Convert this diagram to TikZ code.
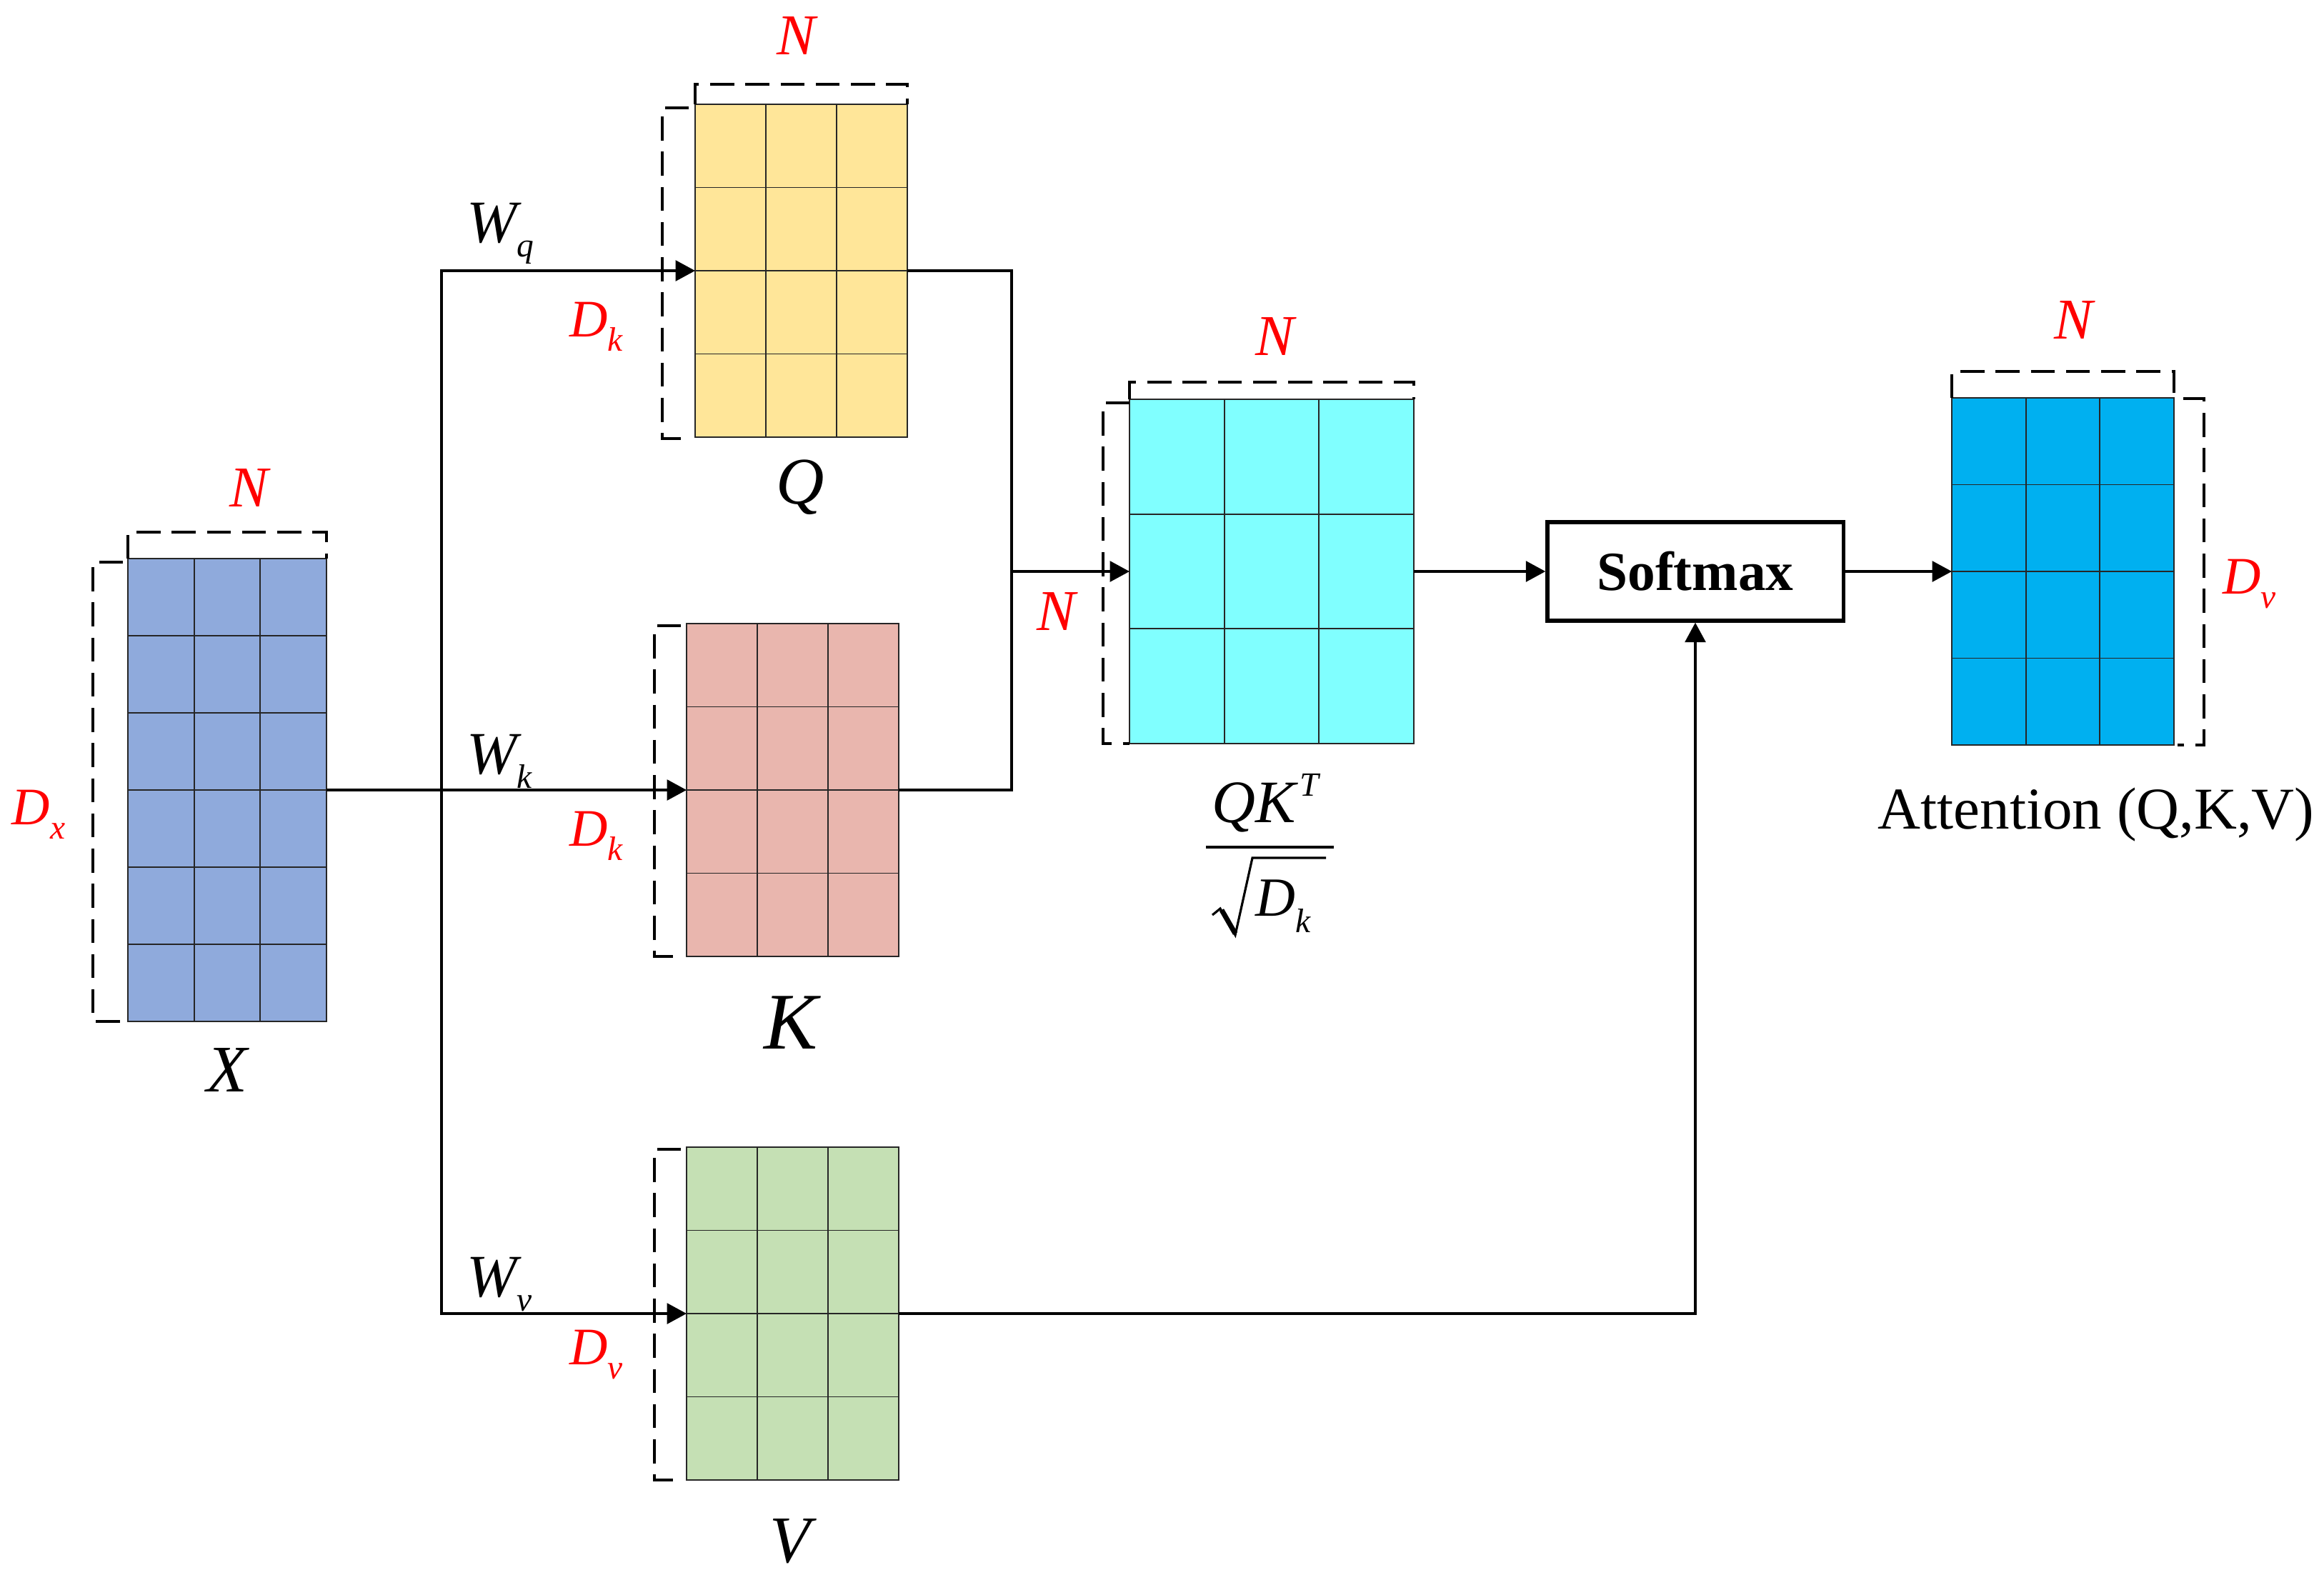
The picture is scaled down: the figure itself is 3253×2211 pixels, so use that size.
\documentclass[tikz,border=0pt]{standalone}
\usepackage{fontspec}
\setmainfont{Liberation Serif}
\usetikzlibrary{arrows.meta,calc,fit}

\definecolor{xcol}{RGB}{143,170,220}
\definecolor{qcol}{RGB}{255,230,153}
\definecolor{kcol}{RGB}{233,182,174}
\definecolor{vcol}{RGB}{197,224,180}
\definecolor{qkcol}{RGB}{128,255,255}
\definecolor{attcol}{RGB}{0,176,240}

\newcommand{\fs}[1]{\fontsize{#1pt}{#1pt}\selectfont}
\newcommand{\lowsub}[2][5.7pt]{\raisebox{-#1}{\fs{13.5}\itshape #2}}

\newcommand{\matgrid}[3]{%
  \foreach \i in {#2}{\draw[gridl] ($(#1.north west)!\i!(#1.north east)$) -- ($(#1.south west)!\i!(#1.south east)$);}%
  \foreach \j in {#3}{\draw[gridl] ($(#1.north west)!\j!(#1.south west)$) -- ($(#1.north east)!\j!(#1.south east)$);}%
}

\tikzset{
  mat/.style={draw=black!85, line width=0.5pt, inner sep=0pt, outer sep=0pt},
  gridl/.style={draw=black!85, line width=0.5pt},
  dimline/.style={line width=1.35pt, dash pattern=on 9.5pt off 4.5pt},
  conn/.style={line width=0.95pt},
  arr/.style={conn, -{Triangle[length=7.8pt,width=8.2pt]}},
  lbl/.style={inner sep=0pt, outer sep=0pt, anchor=base},
  nlab/.style={lbl, text=red, font=\fs{23}\itshape},
  dlab/.style={inner sep=0pt, outer sep=0pt, anchor=base west, text=red, font=\fs{21}\itshape},
  wlab/.style={inner sep=0pt, outer sep=0pt, anchor=base west, font=\fs{24}\itshape},
  mname/.style={lbl, font=\fs{26.5}\itshape},
}

\begin{document}
\begin{tikzpicture}[x=0.01cm, y=-0.01cm]
\fill[white] (0,0) rectangle (3253,2211);
\useasboundingbox (0,0) rectangle (3253,2211);

% ---------- matrices ----------
\node[mat, fill=xcol,   fit={(179,782) (457,1430)}]  (X)   {};
\node[mat, fill=qcol,   fit={(973,146) (1270,612)}]  (Q)   {};
\node[mat, fill=kcol,   fit={(961,873) (1258,1339)}] (K)   {};
\node[mat, fill=vcol,   fit={(961,1606) (1258,2072)}] (V)  {};
\node[mat, fill=qkcol,  fit={(1581,559) (1979,1041)}] (QK) {};
\node[mat, fill=attcol, fit={(2732,557) (3043,1043)}] (Att) {};

\matgrid{X}{0.3333,0.6667}{0.1667,0.3333,0.5,0.6667,0.8333}
\matgrid{Q}{0.3333,0.6667}{0.25,0.5,0.75}
\matgrid{K}{0.3333,0.6667}{0.25,0.5,0.75}
\matgrid{V}{0.3333,0.6667}{0.25,0.5,0.75}
\matgrid{QK}{0.3333,0.6667}{0.3333,0.6667}
\matgrid{Att}{0.3333,0.6667}{0.25,0.5,0.75}

% ---------- softmax ----------
\node[draw, line width=1.5pt, minimum width=4.14cm, minimum height=1.38cm,
      inner sep=0pt, font=\fs{22}\bfseries] (sm) at (2373,800) {Softmax};

% ---------- dimension brackets ----------
\draw[dimline] (X.north west) -- ++(0,-37) -| (X.north east);
\draw[dimline] ($(X.north west)+(-7,5)$) -- ++(-42,0) |- ($(X.south west)+(-7,0)$);
\draw[dimline] (Q.north west) -- ++(0,-28) -| (Q.north east);
\draw[dimline] ($(Q.north west)+(-9,5)$) -- ++(-37,0) |- ($(Q.south west)+(-9,2)$);
\draw[dimline] ($(K.north west)+(-8,3)$) -- ++(-37,0) |- ($(K.south west)+(-8,0)$);
\draw[dimline] ($(V.north west)+(-8,3)$) -- ++(-37,0) |- ($(V.south west)+(-8,0)$);
\draw[dimline] (QK.north west) -- ++(0,-24) -| (QK.north east);
\draw[dimline] ($(QK.north west)+(0,5)$) -- ++(-37,0) |- (QK.south west);
\draw[dimline] (Att.north west) -- ++(0,-37) -| (Att.north east);
\draw[dimline] ($(Att.north east)+(13,1)$) -- ++(29,0) |- ($(Att.south east)+(5,0)$);

% ---------- connectors ----------
\coordinate (split) at (618,1106);
\coordinate (join) at (1416,800);
\draw[arr] (X.east) -- (K.west);
\draw[arr] (split) |- (Q.west);
\draw[arr] (split) |- (V.west);
\draw[conn] (Q.east) -| (join);
\draw[conn] (K.east) -| (join);
\draw[arr] (join) -- (QK.west);
\draw[arr] (QK.east) -- (sm.west);
\draw[arr] (sm.east) -- (Att.west);
\draw[arr] (V.east) -| (sm.south);

% ---------- labels ----------
\node[nlab] (nX) at (348,709) {N};
\node[nlab] (nQ) at (1114,76) {N};
\node[nlab] (nQK) at (1784,497) {N};
\node[nlab] (nQKl) at (1478,882) {N};
\node[nlab] (nAtt) at (2902,474) {N};

\node[dlab] (dX) at (17,1154) {D\lowsub{x}};
\node[dlab] (dQ) at (797,471) {D\lowsub{k}};
\node[dlab] (dK) at (797,1184) {D\lowsub{k}};
\node[dlab] (dV) at (797,1910) {D\lowsub{v}};
\node[dlab] (dAtt) at (3111,831) {D\lowsub{v}};

\node[wlab] (wq) at (653,339) {W\lowsub{q}};
\node[wlab] (wk) at (653,1083) {W\lowsub{k}};
\node[wlab] (wv) at (653,1815) {W\lowsub{v}};

\node[mname] (lX) at (318,1528) {X};
\node[mname] (lQ) at (1120,705) {Q};
\node[lbl, font=\fs{32}\itshape] (lK) at (1107,1468) {K};
\node[mname] (lV) at (1106,2187) {V};

\node[inner sep=0pt, anchor=base west, font=\fs{23.6}] (latt) at (2628,1160) {Attention (Q,K,V)};

% fraction QK^T / sqrt(D_k)
\node[lbl, font=\fs{24}\itshape] (num) at (1771,1151) {QK\hspace{1.5pt}\raisebox{10.5pt}{\fs{13.5}T}};
\draw[line width=0.95pt] (1688,1186) -- (1867,1186);
\draw[line width=0.9pt, line join=miter] (1697,1281) -- (1708,1272) -- (1729,1309) -- (1753,1201) -- (1856,1201);
\draw[line width=2pt] (1710,1274) -- (1729,1307);
\node[inner sep=0pt, anchor=base west, font=\fs{22}\itshape] (den) at (1757,1282) {D\lowsub[6.8pt]{k}};
\end{tikzpicture}
\end{document}
